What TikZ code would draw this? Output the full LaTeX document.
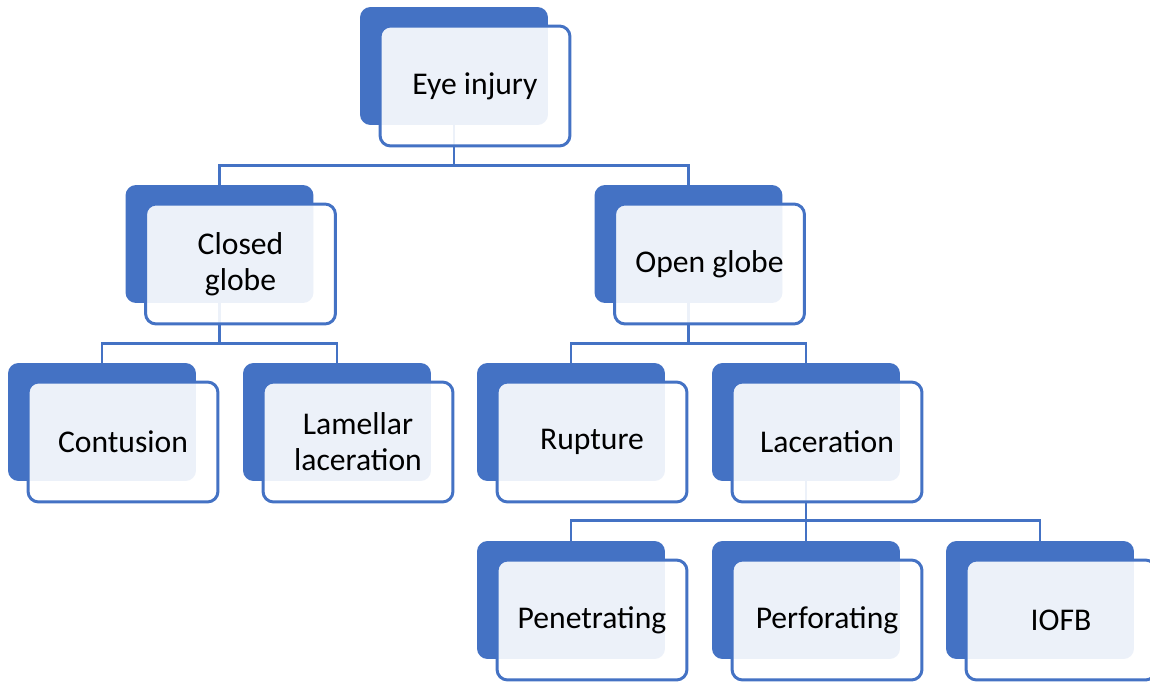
\documentclass[tikz,border=0pt]{standalone}
\usepackage{fontspec}
\setmainfont{Carlito}
\definecolor{injblue}{RGB}{68,114,196}
\tikzset{
  back/.style={rectangle, rounded corners=6pt, fill=injblue,
    minimum width=3.76cm, minimum height=2.36cm, inner sep=0pt},
  front/.style={rectangle, rounded corners=6pt, draw=injblue, line width=1.7pt,
    fill=white, fill opacity=0.9, text opacity=1,
    minimum width=3.8cm, minimum height=2.4cm, inner sep=0pt, align=center,
    font=\fontsize{18}{20.5}\selectfont},
  link/.style={draw=injblue, line width=1.6pt}
}
\begin{document}
\begin{tikzpicture}[x=0.02cm, y=-0.02cm]
  \useasboundingbox (0,0) rectangle (1150,682);
  % back plates
  \node[back] (eyeB) at (454,66) {};
  \node[back] (closedB) at (219.5,244) {};
  \node[back] (openB) at (688.5,244) {};
  \node[back] (contusionB) at (102,422) {};
  \node[back] (lamellarB) at (337,422) {};
  \node[back] (ruptureB) at (571,422) {};
  \node[back] (lacerationB) at (806,422) {};
  \node[back] (penetratingB) at (571,600) {};
  \node[back] (perforatingB) at (806,600) {};
  \node[back] (iofbB) at (1040,600) {};
  % links
  \draw[link] (eyeB.south) -- ++(0,40) -| (closedB.north);
  \draw[link] (eyeB.south) -- ++(0,40) -| (openB.north);
  \draw[link] (closedB.south) -- ++(0,40) -| (contusionB.north);
  \draw[link] (closedB.south) -- ++(0,40) -| (lamellarB.north);
  \draw[link] (openB.south) -- ++(0,40) -| (ruptureB.north);
  \draw[link] (openB.south) -- ++(0,40) -| (lacerationB.north);
  \draw[link] (lacerationB.south) -- ++(0,39) -| (penetratingB.north);
  \draw[link] (lacerationB.south) -- ++(0,39) -| (perforatingB.north);
  \draw[link] (lacerationB.south) -- ++(0,39) -| (iofbB.north);
  % front cards
  \node[front] (eye) at (475,86) {Eye injury};
  \node[front] (closed) at (240.5,264) {Closed\\globe};
  \node[front] (open) at (709.5,264) {Open globe};
  \node[front] (contusion) at (123,442) {Contusion};
  \node[front] (lamellar) at (358,442) {Lamellar\\laceration};
  \node[front] (rupture) at (592,442) {Rupture};
  \node[front] (laceration) at (827,442) {Laceration};
  \node[front] (penetrating) at (592,620) {Penetrating};
  \node[front] (perforating) at (827,620) {Perforating};
  \node[front] (iofb) at (1061,620) {IOFB};
\end{tikzpicture}
\end{document}
